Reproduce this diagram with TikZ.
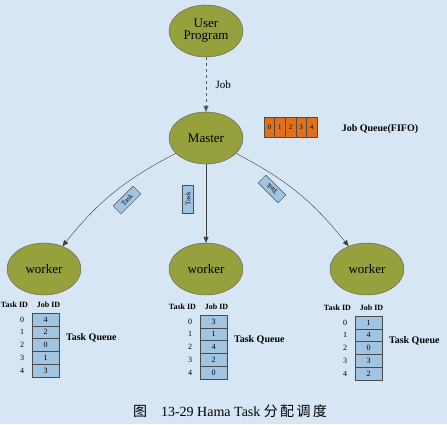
\documentclass[tikz,border=0pt]{standalone}
\usepackage{fontspec}
\setmainfont{Liberation Serif}
\newfontfamily\cjk{Noto Sans CJK SC}
\usetikzlibrary{shapes.geometric,arrows.meta}
\definecolor{bgblue}{RGB}{214,230,244}
\definecolor{olivefill}{RGB}{150,160,60}
\definecolor{queueblue}{RGB}{160,196,226}
\definecolor{joborange}{RGB}{225,112,25}

\begin{document}
\begin{tikzpicture}[x=1pt,y=-1pt,>={Triangle[length=6pt,width=5pt]},
  proc/.style={draw=black!65,fill=olivefill,ellipse,minimum width=74pt,minimum height=52pt,inner sep=0pt,font=\fontsize{13}{14}\selectfont},
  cell/.style={draw=black!70,fill=queueblue,minimum width=27pt,minimum height=12.8pt,inner sep=0pt,font=\fontsize{8}{9}\selectfont},
  jobcell/.style={draw=black!70,fill=joborange,minimum width=10.6pt,minimum height=20pt,inner sep=0pt,font=\fontsize{7}{8}\selectfont},
  tasktag/.style={draw=black!70,fill=queueblue,minimum width=28pt,minimum height=11pt,inner sep=1pt,font=\fontsize{7}{8}\selectfont},
  lbl/.style={font=\fontsize{8}{9}\selectfont\bfseries},
  num/.style={font=\fontsize{8}{9}\selectfont}]
\fill[bgblue] (0,0) rectangle (447,424);
\useasboundingbox (0,0) rectangle (447,424);
\node[proc,align=center] (user) at (206,31) {User\\[-2pt]Program};
\node[proc] (master) at (206,138) {Master};
\node[proc] (w1) at (44,269) {worker};
\node[proc] (w2) at (206,269) {worker};
\node[proc] (w3) at (367,269) {worker};
\draw[->,dashed,black!65] (user) -- node[right=6pt,black,font=\fontsize{11}{12}\selectfont]{Job} (master);
\draw[->,black!75] (master) to[bend right=12] (w1);
\draw[->,black!75] (master) -- (w2);
\draw[->,black!75] (master) to[bend left=12] (w3);
\node[tasktag,rotate=45] (t1) at (127,200) {Task};
\node[tasktag,rotate=90] (t2) at (188,199) {Task};
\node[tasktag,rotate=135] (t3) at (272,189) {Task};
% job queue
\foreach \i in {0,...,4}
  \node[jobcell] (job\i) at (269.3+10.6*\i,127) {\i};
\node[lbl,font=\fontsize{10}{11}\selectfont\bfseries] (jobq) at (380,129) {Job Queue(FIFO)};
% task queues
\foreach \q/\cx/\top/\list in {a/45.5/313/{4,2,0,1,3},b/213.5/315/{3,1,4,2,0},c/368.5/316/{1,4,0,3,2}} {
  \node[lbl] (\q-tid) at (\cx-31,\top-8) {Task ID};
  \node[lbl] (\q-jid) at (\cx+3,\top-8) {Job ID};
  \foreach \j [count=\i from 0] in \list {
    \node[cell] (\q-\i) at (\cx,\top+6.4+12.8*\i) {\j};
    \node[num] (\q-n\i) at (\cx-23.5,\top+6.4+12.8*\i) {\i};
  }
  \node[lbl,font=\fontsize{10}{11}\selectfont\bfseries,anchor=west] (\q-name) at (\cx+17,\top+25) {Task Queue};
}
\node[font=\fontsize{14}{15}\selectfont] (caption) at (230,411) {{\cjk 图}\quad 13-29 Hama Task {\cjk 分\,配\,调\,度}};
\end{tikzpicture}
\end{document}
